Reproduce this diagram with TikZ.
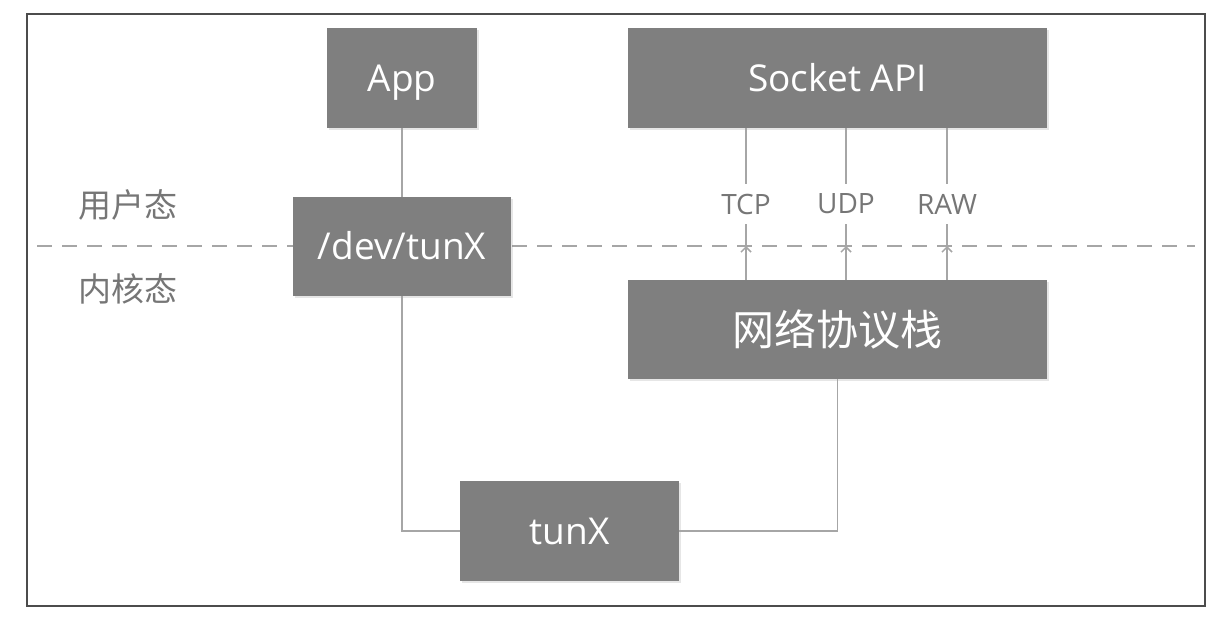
\documentclass[tikz,border=0pt]{standalone}
\usepackage{fontspec}
\setmainfont{Open Sans}
\newfontfamily\cjk{Noto Sans CJK SC}
\usetikzlibrary{arrows.meta,shadows}
\definecolor{boxgray}{HTML}{7F7F7F}
\definecolor{linegray}{HTML}{A6A6A6}
\definecolor{labelgray}{HTML}{767676}

\begin{document}
\begin{tikzpicture}[x=1pt,y=-1pt,
    blk/.style={fill=boxgray, draw=none, text=white, inner sep=0pt,
      text height=26.5pt, text depth=0pt,
      drop shadow={shadow xshift=1.5pt,shadow yshift=-1.5pt,opacity=0.2},
      font=\fontsize{37}{42}\selectfont},
    link/.style={draw=linegray, line width=1.5pt},
    proto/.style={text=labelgray, inner xsep=2pt, inner ysep=10pt,
      font=\fontsize{28}{32}\selectfont},
    mode/.style={text=labelgray, font=\cjk\fontsize{33}{36}\selectfont},
    uptip/.style={-{Straight Barb[length=5pt,width=10pt]}}]
    \useasboundingbox (0,0) rectangle (1223,619);
    \draw[draw=black!70, line width=1.5pt] (27,14) rectangle (1205,606);
    % user / kernel border
    \coordinate (dashL) at (37,246);
    \coordinate (dashR) at (1195,246);
    \draw[draw=linegray, line width=2pt, dash pattern=on 15pt off 10pt] (dashL) -- (dashR);
    \node[mode] (user) at (128,205) {用户态};
    \node[mode] (kernel) at (128,289) {内核态};
    % boxes
    \node[blk, minimum width=150pt, minimum height=100pt] (app) at (402,78) {App};
    \node[blk, minimum width=218pt, minimum height=99pt] (dev) at (402,246.5) {/dev/tunX};
    \node[blk, minimum width=419pt, minimum height=100pt] (sock) at (837.5,78) {Socket API};
    \node[blk, minimum width=419pt, minimum height=99pt, text height=32pt,
      font=\cjk\fontsize{42}{46}\selectfont] (stack) at (837.5,329.5) {网络协议栈};
    \node[blk, minimum width=219pt, minimum height=100pt] (tun) at (569.5,531) {tunX};
    % links
    \draw[link] (app) -- (dev);
    \draw[link] (dev.south) |- (tun.west);
    \draw[link] (tun.east) -| (stack.south);
    \foreach \n/\t/\x in {tcp/TCP/746, udp/UDP/846, raw/RAW/947}{
      \node[proto] (\n) at (\x,204) {\t};
      \draw[link] (sock.south -| \n) -- (\n.north);
      \draw[link, uptip] (stack.north -| \n) -- (\n |- dashL);
      \draw[link] (\n |- dashL) -- (\n.south);
    }
\end{tikzpicture}
\end{document}
